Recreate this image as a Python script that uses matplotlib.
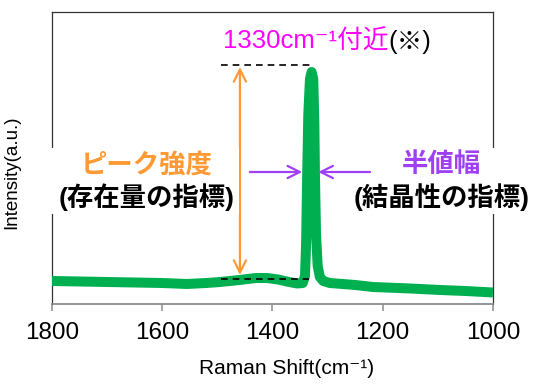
import matplotlib
matplotlib.use("Agg")
import matplotlib.pyplot as plt
from matplotlib.patches import Rectangle

plt.rcParams['font.family'] = ['Liberation Sans', 'Noto Sans CJK JP', 'DejaVu Sans']

# ---------------- DATA ----------------
# Raman spectrum (x in cm-1, intensity in arbitrary units)
shift = [1800, 1750, 1700, 1650, 1600, 1555, 1520, 1495, 1460, 1430, 1410,
         1390, 1370, 1355, 1345, 1341, 1339, 1337, 1335, 1332, 1329, 1326,
         1324, 1323, 1321, 1318, 1314, 1308, 1296, 1250, 1218, 1150, 1096,
         1050, 1000]
intensity = [23, 22.5, 22, 21.5, 21, 20, 21, 22, 24, 26, 26,
             24.5, 22, 20.5, 21, 28, 60, 131, 190, 225, 232, 225,
             180, 131, 70, 38, 27, 23, 21, 19, 17, 15.5, 14,
             13, 11.5]
xticks = [1800, 1600, 1400, 1200, 1000]

peak_label = "1330cm⁻¹付近"
height_label = "ピーク強度"
height_note = "(存在量の指標)"
width_label = "半値幅"
width_note = "(結晶性の指標)"
# --------------------------------------

GREEN = "#00B050"
ORANGE = "#FF9933"
PURPLE = "#A040F5"
MAGENTA = "#FF00FF"

fig = plt.figure(figsize=(5.37, 3.85), dpi=100)
ax = fig.add_axes([0.0968, 0.2104, 0.8212, 0.7584])

ax.plot(shift, intensity, color=GREEN, lw=7.2, solid_joinstyle='round',
        solid_capstyle='butt', zorder=3)

ax.set_xlim(1800, 1000)
ax.set_ylim(0, 292)
ax.set_xticks(xticks)
ax.set_yticks([])
ax.tick_params(axis='x', direction='out', length=5, width=1.1, color='#8c8c8c',
               labelsize=17.5, pad=8)

for side in ['top', 'left', 'right']:
    ax.spines[side].set_color('#333333')
    ax.spines[side].set_linewidth(0.9)
ax.spines['bottom'].set_color('#8c8c8c')
ax.spines['bottom'].set_linewidth(1.3)

ax.set_xlabel("Raman Shift(cm⁻¹)", fontsize=15)
ax.xaxis.set_label_coords(0.532, -0.19)
ax.set_ylabel("Intensity(a.u.)", fontsize=13.5)
ax.yaxis.set_label_coords(-0.073, 0.45)

# peak height guides
ax.plot([1493, 1330], [239, 239], color='black', lw=1.2, ls=(0, (4, 3)), zorder=2)
ax.plot([1493, 1334], [25, 25], color='black', lw=1.2, ls=(0, (4, 3)), zorder=4)
ax.annotate("", xy=(1459, 237), xytext=(1459, 29),
            arrowprops=dict(arrowstyle='<->', color=ORANGE, lw=1.6,
                            mutation_scale=22, shrinkA=0, shrinkB=0))

# FWHM arrows
ax.annotate("", xy=(1346, 132), xytext=(1441, 132),
            arrowprops=dict(arrowstyle='->', color=PURPLE, lw=1.6,
                            mutation_scale=22, shrinkA=0, shrinkB=0))
ax.annotate("", xy=(1317, 132), xytext=(1223, 132),
            arrowprops=dict(arrowstyle='->', color=PURPLE, lw=1.6,
                            mutation_scale=22, shrinkA=0, shrinkB=0))

# white backgrounds behind the two label blocks (they cut the frame)
ax.add_patch(Rectangle((-0.016, 0.308), 0.44, 0.226, transform=ax.transAxes,
                       facecolor='white', edgecolor='none', clip_on=False, zorder=5))
ax.add_patch(Rectangle((0.725, 0.308), 0.3, 0.226, transform=ax.transAxes,
                       facecolor='white', edgecolor='none', clip_on=False, zorder=5))

ax.text(1628, 139, height_label, color=ORANGE, fontsize=19, fontweight='bold',
        ha='center', va='center', zorder=6)
ax.text(1628, 107, height_note, color='black', fontsize=19, fontweight='bold',
        ha='center', va='center', zorder=6)
ax.text(1094, 139, width_label, color=PURPLE, fontsize=19, fontweight='bold',
        ha='center', va='center', zorder=6, clip_on=False)
ax.text(1094, 107, width_note, color='black', fontsize=19, fontweight='bold',
        ha='center', va='center', zorder=6, clip_on=False)

ax.text(1190, 262, peak_label, color=MAGENTA, fontsize=18.5,
        ha='right', va='center', zorder=6)
ax.text(1190, 262, "(※)", color='black', fontsize=18.5,
        ha='left', va='center', zorder=6)

fig.savefig("out.png", dpi=100)
